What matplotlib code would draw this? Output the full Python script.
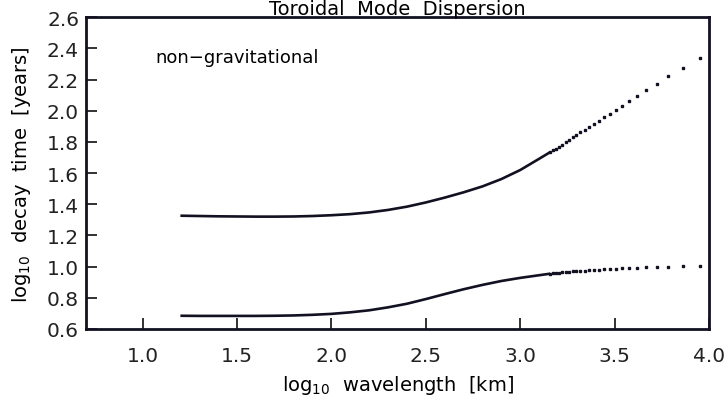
import matplotlib
matplotlib.use("Agg")
import matplotlib.pyplot as plt

plt.rcParams['font.family'] = ['DejaVu Sans']

# solid (densely sampled) part of the two branches
upper_x = [1.2, 1.3, 1.4, 1.5, 1.6, 1.7, 1.8, 1.9, 2.0, 2.1, 2.2, 2.3, 2.4, 2.5,
           2.6, 2.7, 2.8, 2.9, 3.0, 3.1, 3.159]
upper_y = [1.327, 1.325, 1.323, 1.322, 1.321, 1.321, 1.322, 1.325, 1.330, 1.337,
           1.348, 1.364, 1.385, 1.412, 1.443, 1.477, 1.515, 1.562, 1.620, 1.692, 1.735]
lower_x = [1.2, 1.3, 1.4, 1.5, 1.6, 1.7, 1.8, 1.9, 2.0, 2.1, 2.2, 2.3, 2.4, 2.5,
           2.6, 2.7, 2.8, 2.9, 3.0, 3.1, 3.159]
lower_y = [0.685, 0.684, 0.684, 0.684, 0.684, 0.685, 0.687, 0.691, 0.697, 0.707,
           0.720, 0.739, 0.762, 0.792, 0.824, 0.855, 0.883, 0.908, 0.928, 0.945, 0.955]

# sparse samples at long wavelengths (drawn as dots)
dot_x = [3.95, 3.86, 3.785, 3.722, 3.668, 3.62, 3.578, 3.54, 3.505, 3.473, 3.443,
         3.415, 3.389, 3.364, 3.341, 3.319, 3.298, 3.278, 3.259, 3.241, 3.223,
         3.206, 3.19, 3.174, 3.159]
dot_upper = [2.338, 2.276, 2.221, 2.174, 2.133, 2.092, 2.060, 2.033, 2.008, 1.982,
             1.959, 1.937, 1.917, 1.898, 1.880, 1.864, 1.845, 1.830, 1.815, 1.800,
             1.783, 1.770, 1.758, 1.746, 1.735]
dot_lower = [1.006, 1.002, 1.000, 0.998, 0.996, 0.993, 0.991, 0.989, 0.987, 0.985,
             0.983, 0.981, 0.979, 0.977, 0.975, 0.973, 0.971, 0.969, 0.967, 0.965,
             0.963, 0.961, 0.959, 0.957, 0.955]

x_ticks = [1.0, 1.5, 2.0, 2.5, 3.0, 3.5, 4.0]
y_ticks = [0.6, 0.8, 1.0, 1.2, 1.4, 1.6, 1.8, 2.0, 2.2, 2.4, 2.6]

fig = plt.figure(figsize=(7.28, 4.02), dpi=100)
ax = fig.add_axes([86 / 728, 72 / 402, 623 / 728, 311.7 / 402])

ink = '#111122'
ax.plot(upper_x, upper_y, color=ink, lw=1.9, solid_capstyle='butt')
ax.plot(lower_x, lower_y, color=ink, lw=1.9, solid_capstyle='butt')
ax.plot(dot_x, dot_upper, ls='none', marker='s', ms=1.8, color=ink)
ax.plot(dot_x, dot_lower, ls='none', marker='s', ms=1.8, color=ink)

ax.set_xlim(0.7, 4.0)
ax.set_ylim(0.6, 2.6)
ax.set_xticks(x_ticks)
ax.set_xticklabels([f"{v:.1f}" for v in x_ticks])
ax.set_yticks(y_ticks)
ax.set_yticklabels([f"{v:.1f}" for v in y_ticks])
ax.tick_params(direction='in', length=8, width=1.3, labelsize=14.5, colors='#222222')
ax.tick_params(axis='x', pad=12)
ax.tick_params(axis='y', pad=5)
for s in ax.spines.values():
    s.set_linewidth(2.0)
    s.set_color(ink)

ax.set_xlabel("log$_{10}$  wavelength  [km]", fontsize=14, labelpad=6)
ax.set_ylabel("log$_{10}$  decay  time  [years]", fontsize=14, labelpad=10)

ax.text(1.065, 2.345, "non\u2212gravitational", fontsize=13, va='center', ha='left')

fig.text(0.546, 1 - 15 / 402, "Toroidal  Mode  Dispersion", fontsize=14,
         ha='center', va='baseline')

fig.savefig("out.png", dpi=100, facecolor='white')
